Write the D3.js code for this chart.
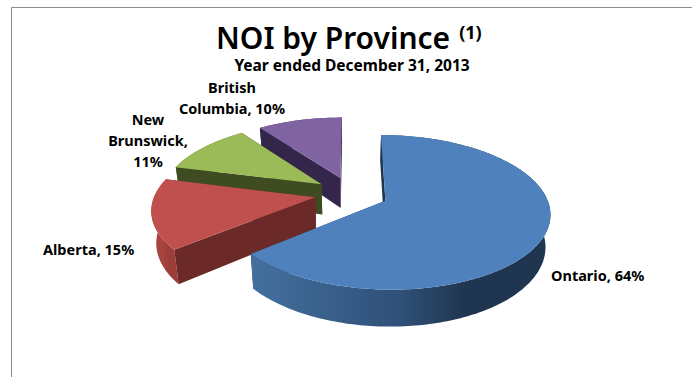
<!DOCTYPE html>
<html>
<head>
<meta charset="utf-8">
<script src="https://cdn.jsdelivr.net/npm/d3@7/dist/d3.min.js"></script>
<style>
  html, body { margin: 0; padding: 0; background: #fff; }
  svg { display: block; }
  text { font-family: "Noto Sans", sans-serif; fill: #000; }
</style>
</head>
<body>
<svg id="chart" width="692" height="377"></svg>
<script>
// Net operating income share by province
const provinces = ["Ontario", "Alberta", "New Brunswick", "British Columbia"];
const shares = [64, 15, 11, 10];
const topColors = ["#4f81bd", "#c0504d", "#9bbb59", "#8064a2"];
const cutColors = ["#1f3550", "#6b2a28", "#3f4c22", "#33264a"];
const rimColors = [
  ["#44709f", "#2f5078", "#1f3550"],
  ["#a8433f", "#a8433f", "#9c3d3a"],
  ["#5f7a33", "#5f7a33", "#5f7a33"],
  ["#33264a", "#33264a", "#33264a"]
];
const labelLines = [
  ["Ontario, 64%"],
  ["Alberta, 15%"],
  ["New", "Brunswick,", "11%"],
  ["British", "Columbia, 10%"]
];

const W = 692, H = 377;
const svg = d3.select("#chart");

// Projection of the tilted, exploded pie: unit-radius ground plane to screen
const centerX = 351.5, centerY = 193.5;
const radiusX = 160, radiusY = 73.4;
const perspective = 0.147;
const explode = 0.231;
const thickness = 31;
const baseShrink = 0.975;

const scaleX = d3.scaleLinear().domain([0, 1]).range([centerX, centerX + radiusX]);
const scaleY = d3.scaleLinear().domain([0, 1]).range([centerY, centerY + radiusY]);

function project(u, v, low) {
  const s = 1 / (1 - perspective * v);
  const x = scaleX(u * s);
  const y = scaleY(v * s);
  return low
    ? [centerX + (x - centerX) * baseShrink, y + thickness * s]
    : [x, y];
}

const pie = d3.pie().sort(null).startAngle(0).endAngle(2 * Math.PI);
const slices = pie(shares).map((d, i) => {
  const mid = (d.startAngle + d.endAngle) / 2;
  return { ...d, i, ox: Math.sin(mid) * explode, oy: -Math.cos(mid) * explode };
});

const line = d3.line();

function rimPoint(s, a, low) {
  return project(s.ox + Math.sin(a), s.oy - Math.cos(a), low);
}
function arcPoints(s, low) {
  const n = Math.max(8, Math.ceil((s.endAngle - s.startAngle) / 0.02));
  return d3.range(n + 1).map(k =>
    rimPoint(s, s.startAngle + (s.endAngle - s.startAngle) * k / n, low));
}

const defs = svg.append("defs");
slices.forEach(s => {
  const xs = arcPoints(s, false).map(p => p[0]);
  const lo = d3.min(xs);
  const span = d3.max(xs) - lo;
  const g = defs.append("linearGradient")
    .attr("id", "rim" + s.i)
    .attr("gradientUnits", "userSpaceOnUse")
    .attr("x1", lo).attr("x2", lo + span).attr("y1", 0).attr("y2", 0);
  [0, 0.5, 0.72].forEach((o, k) => {
    g.append("stop").attr("offset", o).attr("stop-color", rimColors[s.i][k]);
  });
});

// Chart frame, open towards the right and the bottom
svg.append("path")
  .attr("d", line([[11.5, H], [11.5, 7.5], [W, 7.5]]))
  .attr("fill", "none")
  .attr("stroke", "#8c8c8c")
  .attr("stroke-width", 1);

// Painter's order: farthest slice first
const drawOrder = d3.range(slices.length).reverse();
const groups = svg.append("g").selectAll("g")
  .data(drawOrder.map(i => slices[i]))
  .join("g");

function cutWall(s, a) {
  const ax = project(s.ox, s.oy, false);
  const bx = project(s.ox, s.oy, true);
  return line([ax, rimPoint(s, a, false), rimPoint(s, a, true), bx]) + "Z";
}

groups.append("path")
  .attr("d", s => cutWall(s, s.endAngle))
  .attr("fill", s => cutColors[s.i]);
groups.append("path")
  .attr("d", s => line(arcPoints(s, false).concat(arcPoints(s, true).reverse())) + "Z")
  .attr("fill", s => `url(#rim${s.i})`);
groups.append("path")
  .attr("d", s => cutWall(s, s.startAngle))
  .attr("fill", s => cutColors[s.i]);
groups.append("path")
  .attr("d", s => line([project(s.ox, s.oy, false)].concat(arcPoints(s, false))) + "Z")
  .attr("fill", s => topColors[s.i]);

// Titles
const title = svg.append("text")
  .attr("x", 216).attr("y", 49)
  .attr("font-size", 30).attr("font-weight", 600);
title.append("tspan").text("NOI by Province");
title.append("tspan").attr("dx", 9).attr("dy", -10)
  .attr("font-size", 18).attr("font-weight", 700).text("(1)");

svg.append("text")
  .attr("x", 352).attr("y", 71)
  .attr("text-anchor", "middle")
  .attr("font-size", 15.5).attr("font-weight", 700)
  .text("Year ended December 31, 2013");

// Slice labels
const labelAnchor = [[551, 281], [43, 255], [148, 125], [232, 93]];
const labelAlign = ["start", "start", "middle", "middle"];
const lineGap = [0, 0, 21, 21];
provinces.forEach((name, i) => {
  svg.append("text")
    .attr("aria-label", `${name}, ${shares[i]}%`)
    .attr("font-size", 14.5).attr("font-weight", 700)
    .attr("text-anchor", labelAlign[i])
    .selectAll("tspan")
    .data(labelLines[i])
    .join("tspan")
    .attr("x", labelAnchor[i][0])
    .attr("y", (d, k) => labelAnchor[i][1] + k * lineGap[i])
    .text(d => d);
});
</script>
</body>
</html>
